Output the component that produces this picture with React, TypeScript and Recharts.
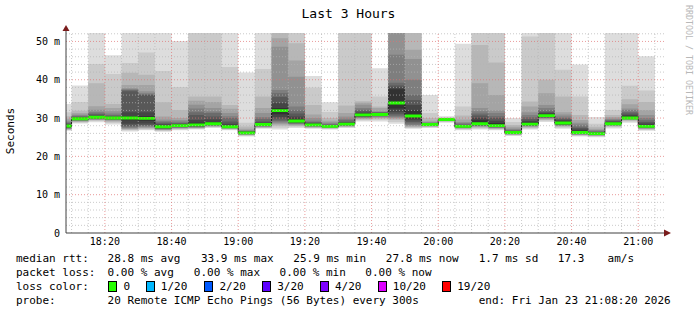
import React from "react";
import { Area, ComposedChart, ReferenceDot, ReferenceLine, XAxis, YAxis } from "recharts";

// 5 minute steps, each entry is the start of the step
const times = [
  "18:05", "18:10", "18:15", "18:20", "18:25", "18:30", "18:35", "18:40", "18:45",
  "18:50", "18:55", "19:00", "19:05", "19:10", "19:15", "19:20", "19:25", "19:30",
  "19:35", "19:40", "19:45", "19:50", "19:55", "20:00", "20:05", "20:10", "20:15",
  "20:20", "20:25", "20:30", "20:35", "20:40", "20:45", "20:50", "20:55", "21:00",
];

// median rtt in ms
const median = [
  27.9, 29.8, 30.2, 30.0, 30.0, 29.9, 27.7, 28.0, 28.2, 28.5, 27.7, 26.1,
  28.3, 31.9, 29.2, 28.2, 27.8, 28.4, 30.8, 30.9, 33.9, 30.5, 28.3, 29.6,
  27.8, 28.5, 28.0, 26.2, 28.4, 30.6, 28.7, 26.2, 25.9, 28.5, 30.0, 27.8,
];

// upper pings (ping20 .. ping11), ms
const upper = [
  [33.7, 31.5, 30.5, 29.8, 29.3, 29.0, 28.7, 28.5, 28.3, 28.1],
  [38.5, 34.2, 31.9, 31.3, 30.9, 30.7, 30.5, 30.3, 30.1, 30.0],
  [58, 44.1, 39.1, 33.1, 32.2, 31.6, 31.2, 30.9, 30.6, 30.4],
  [46.4, 41.5, 33.7, 32.6, 31.8, 31.2, 30.8, 30.5, 30.3, 30.1],
  [58, 44.4, 41.8, 38.6, 37.8, 37.5, 37.3, 37.0, 31.5, 30.5],
  [58, 47.1, 41.3, 38.6, 37.0, 36.5, 36.2, 36.0, 31.5, 30.5],
  [58, 42.3, 34.1, 30.4, 29.6, 29.2, 28.9, 28.6, 28.3, 28.0],
  [50.1, 38.1, 32.1, 30.0, 29.5, 29.1, 28.8, 28.6, 28.4, 28.2],
  [58, 58, 35.6, 34.5, 33.5, 32.5, 31.5, 30.8, 29.5, 28.8],
  [58, 58, 35.6, 34.2, 32.6, 31.7, 31.3, 30.4, 29.6, 29.0],
  [58, 43.3, 33.4, 32.4, 31.3, 30.5, 30.0, 29.1, 28.5, 28.0],
  [41.9, 28.8, 27.8, 27.2, 26.9, 26.7, 26.6, 26.5, 26.4, 26.3],
  [58, 42.8, 35.6, 32.6, 31.3, 30.3, 29.8, 29.1, 28.8, 28.5],
  [58, 58, 58, 50.8, 48.6, 37.3, 36.5, 35.5, 33.9, 32.6],
  [58, 58, 49.5, 45.0, 40.8, 33.0, 32.0, 31.2, 30.4, 29.8],
  [41.0, 38.0, 33.4, 30.9, 30.0, 29.3, 29.0, 28.8, 28.6, 28.4],
  [34.1, 31.6, 30.0, 29.3, 28.9, 28.6, 28.4, 28.2, 28.1, 28.0],
  [58, 58, 33.3, 31.3, 30.4, 29.8, 29.4, 29.0, 28.8, 28.6],
  [58, 58, 34.4, 34.0, 33.5, 32.6, 32.2, 31.8, 31.4, 31.1],
  [43.0, 35.6, 33.0, 32.6, 31.8, 31.6, 31.5, 31.4, 31.2, 31.0],
  [58, 58, 58, 58, 58, 46.5, 39.2, 38.5, 38.0, 37.5],
  [58, 58, 58, 47.8, 45.4, 40.0, 36.0, 34.7, 33.4, 32.0],
  [36.0, 31.3, 30.0, 29.3, 29.0, 28.8, 28.7, 28.6, 28.5, 28.4],
  [30.5, 30.2, 30.0, 29.9, 29.8, 29.8, 29.7, 29.7, 29.6, 29.6],
  [49.4, 33.0, 30.7, 29.6, 29.0, 28.7, 28.4, 28.2, 28.0, 27.9],
  [58, 58, 49.1, 39.1, 32.6, 31.8, 31.2, 30.7, 30.0, 29.4],
  [58, 58, 44.5, 36.0, 32.0, 31.3, 30.5, 30.0, 29.3, 28.7],
  [30.0, 29.0, 28.2, 27.7, 27.3, 27.0, 26.8, 26.6, 26.5, 26.4],
  [58, 51.3, 34.3, 33.0, 31.5, 30.8, 30.2, 29.7, 29.2, 28.8],
  [58, 58, 40.0, 36.5, 33.4, 32.6, 32.0, 31.6, 31.3, 31.0],
  [58, 42.6, 35.6, 31.5, 30.9, 30.4, 30.0, 29.7, 29.4, 29.1],
  [44.0, 35.6, 30.8, 29.5, 28.8, 28.3, 27.8, 27.4, 27.0, 26.7],
  [30.3, 28.5, 27.7, 27.2, 26.9, 26.7, 26.5, 26.3, 26.2, 26.1],
  [58, 32.1, 30.8, 30.3, 29.9, 29.6, 29.4, 29.2, 29.0, 28.8],
  [58, 38.4, 34.9, 33.6, 32.5, 32.1, 31.6, 31.2, 30.8, 30.4],
  [46.1, 37.2, 34.2, 32.1, 30.8, 30.0, 29.4, 29.0, 28.6, 28.2],
];

// lower pings (ping1 .. ping10), ms
const lower = [
  [26.7, 26.9, 27.0, 27.1, 27.2, 27.3, 27.4, 27.5, 27.6, 27.7],
  [28.6, 28.8, 29.0, 29.1, 29.2, 29.3, 29.4, 29.5, 29.6, 29.7],
  [28.9, 29.2, 29.4, 29.5, 29.6, 29.7, 29.8, 29.9, 30.0, 30.1],
  [28.3, 28.7, 29.0, 29.2, 29.4, 29.5, 29.6, 29.7, 29.8, 29.9],
  [26.5, 26.8, 27.0, 27.1, 27.3, 27.5, 27.7, 28.0, 28.5, 29.4],
  [26.8, 27.0, 27.2, 27.4, 27.6, 27.8, 28.0, 28.2, 28.6, 29.3],
  [26.4, 26.6, 26.8, 26.9, 27.0, 27.1, 27.2, 27.3, 27.4, 27.5],
  [26.8, 27.0, 27.2, 27.3, 27.4, 27.5, 27.6, 27.7, 27.8, 27.9],
  [27.0, 27.2, 27.3, 27.4, 27.5, 27.6, 27.7, 27.8, 27.9, 28.0],
  [27.4, 27.6, 27.7, 27.8, 27.9, 28.0, 28.1, 28.2, 28.3, 28.4],
  [26.8, 27.0, 27.1, 27.2, 27.3, 27.4, 27.5, 27.5, 27.6, 27.6],
  [25.2, 25.4, 25.5, 25.6, 25.7, 25.8, 25.9, 25.9, 26.0, 26.0],
  [27.2, 27.4, 27.5, 27.6, 27.7, 27.8, 27.9, 28.0, 28.1, 28.2],
  [27.0, 27.5, 28.0, 28.3, 28.6, 28.9, 29.2, 29.6, 30.2, 31.0],
  [27.4, 27.7, 27.9, 28.1, 28.3, 28.5, 28.6, 28.8, 28.9, 29.0],
  [27.2, 27.4, 27.5, 27.6, 27.7, 27.8, 27.9, 28.0, 28.0, 28.1],
  [27.0, 27.2, 27.3, 27.4, 27.5, 27.6, 27.6, 27.7, 27.7, 27.7],
  [27.4, 27.6, 27.7, 27.8, 27.9, 28.0, 28.1, 28.2, 28.2, 28.3],
  [29.1, 29.4, 29.6, 29.8, 30.0, 30.1, 30.3, 30.4, 30.5, 30.6],
  [29.1, 29.5, 29.8, 30.0, 30.2, 30.4, 30.5, 30.6, 30.7, 30.8],
  [28.5, 29.0, 29.5, 29.8, 30.0, 30.3, 30.6, 31.0, 31.5, 32.5],
  [27.2, 27.4, 27.6, 27.8, 28.0, 28.2, 28.6, 29.0, 29.4, 29.9],
  [27.4, 27.6, 27.7, 27.8, 27.9, 28.0, 28.0, 28.1, 28.1, 28.2],
  [28.8, 29.0, 29.1, 29.2, 29.3, 29.4, 29.4, 29.5, 29.5, 29.5],
  [26.8, 27.0, 27.2, 27.3, 27.4, 27.5, 27.6, 27.6, 27.7, 27.7],
  [27.0, 27.3, 27.5, 27.7, 27.8, 27.9, 28.0, 28.1, 28.2, 28.3],
  [26.8, 27.0, 27.2, 27.3, 27.4, 27.5, 27.6, 27.7, 27.8, 27.9],
  [25.3, 25.5, 25.6, 25.7, 25.8, 25.9, 26.0, 26.0, 26.1, 26.1],
  [27.0, 27.3, 27.5, 27.7, 27.8, 27.9, 28.0, 28.1, 28.2, 28.3],
  [29.0, 29.3, 29.5, 29.7, 29.9, 30.0, 30.1, 30.2, 30.3, 30.4],
  [27.2, 27.5, 27.7, 27.9, 28.0, 28.1, 28.2, 28.3, 28.4, 28.5],
  [25.2, 25.4, 25.5, 25.6, 25.7, 25.8, 25.9, 26.0, 26.0, 26.1],
  [25.0, 25.2, 25.3, 25.4, 25.5, 25.6, 25.7, 25.7, 25.8, 25.8],
  [27.3, 27.6, 27.8, 27.9, 28.0, 28.1, 28.2, 28.3, 28.3, 28.4],
  [28.8, 29.1, 29.3, 29.5, 29.6, 29.7, 29.8, 29.8, 29.9, 29.9],
  [26.7, 26.9, 27.1, 27.2, 27.3, 27.4, 27.5, 27.6, 27.7, 27.7],
];

const xTickLabels = ["18:20", "18:40", "19:00", "19:20", "19:40", "20:00", "20:20", "20:40", "21:00"];
const yTicks = [0, 10, 20, 30, 40, 50];

const smokeColors = [
  "#dddddd", "#cacaca", "#b7b7b7", "#a4a4a4", "#919191",
  "#7e7e7e", "#6b6b6b", "#585858", "#454545", "#323232",
];

const lossColors = [
  { label: "0", color: "#26ff00" },
  { label: "1/20", color: "#00b8ff" },
  { label: "2/20", color: "#0059ff" },
  { label: "3/20", color: "#5e00ff" },
  { label: "4/20", color: "#7e00ff" },
  { label: "10/20", color: "#dd00ff" },
  { label: "19/20", color: "#ff0000" },
];

const START = 8 + 20 / 60; // 18:08:20
const END = START + 180;
const Y_MAX = 52.2;

const toMin = (s: string) => {
  const [h, m] = s.split(":").map(Number);
  return (h - 18) * 60 + m;
};
const fmtTime = (v: number) => `${18 + Math.floor(v / 60)}:${String(v % 60).padStart(2, "0")}`;

const rows = times.map((t, i) => ({
  t: toMin(t),
  med: median[i],
  band: [median[i] - 0.35, median[i] + 0.4],
  layers: upper[i].map((hi, k) => [lower[i][k], hi]),
}));
const lastRow = rows[rows.length - 1];
const data = [...rows, { ...lastRow, t: lastRow.t + 5 }];

const minorY: number[] = [];
for (let v = 2; v < Y_MAX; v += 2) if (v % 10 !== 0) minorY.push(v);
const minorX: number[] = [];
for (let v = 10; v <= 185; v += 5) if (v % 20 !== 0) minorX.push(v);

const mono = "'DejaVu Sans Mono', monospace";

const legendRows: [number, string][][] = [
  [[16, "median rtt:"], [107.6, "28.8 ms avg"], [200.9, "33.9 ms max"], [293.3, "25.9 ms min"],
   [385.8, "27.8 ms now"], [478.7, "1.7 ms sd"], [557.8, "17.3"], [607.6, "am/s"]],
  [[16, "packet loss:"], [107.6, "0.00 % avg"], [193.8, "0.00 % max"], [279.6, "0.00 % min"], [365.3, "0.00 % now"]],
  [[16, "loss color:"]],
  [[16, "probe:"], [107.6, "20 Remote ICMP Echo Pings (56 Bytes) every 300s"], [478.7, "end: Fri Jan 23 21:08:20 2026"]],
];
const rowTops = [252.8, 266.8, 280.5, 294.8];
const boxX = [108.4, 145.8, 204.4, 262.2, 320, 377.8, 442.2];

const textStyle: React.CSSProperties = {
  position: "absolute",
  fontFamily: mono,
  fontSize: 11,
  lineHeight: "12px",
  whiteSpace: "pre",
  color: "#000",
};

export default function App() {
  return (
    <div style={{ position: "absolute", left: 0, top: 0, width: 697, height: 315, background: "#fff", overflow: "hidden" }}>
      <ComposedChart width={697} height={315} data={data} margin={{ top: 33, right: 31, bottom: 62, left: 0 }}>
        <XAxis
          dataKey="t"
          type="number"
          domain={[START, END]}
          allowDataOverflow
          ticks={xTickLabels.map(toMin)}
          interval={0}
          tickFormatter={fmtTime}
          height={20}
          tickSize={0}
          tickMargin={5}
          axisLine={{ stroke: "#404040" }}
          tick={{ fontSize: 10, fontFamily: mono, fill: "#000" }}
        />
        <YAxis
          type="number"
          domain={[0, Y_MAX]}
          allowDataOverflow
          ticks={yTicks}
          interval={0}
          tickFormatter={(v: number) => (v === 0 ? "0" : `${v} m`)}
          width={66}
          tickSize={0}
          tickMargin={6}
          axisLine={{ stroke: "#404040" }}
          tick={{ fontSize: 10, fontFamily: mono, fill: "#000" }}
        />
        {smokeColors.map((c, k) => (
          <Area
            key={c}
            dataKey={(d: any) => d.layers[k]}
            type="stepAfter"
            fill={c}
            fillOpacity={1}
            stroke="none"
            dot={false}
            activeDot={false}
            isAnimationActive={false}
          />
        ))}
        {/* thin dark median line, only its vertical steps stay visible */}
        <Area
          dataKey="med"
          type="stepAfter"
          fill="none"
          fillOpacity={0}
          stroke="#202020"
          strokeWidth={1}
          dot={false}
          activeDot={false}
          isAnimationActive={false}
        />
        <Area dataKey="band" type="stepAfter" fill="#26ff00" fillOpacity={1} stroke="none" dot={false} activeDot={false} isAnimationActive={false} />
        {minorY.map((v) => (
          <ReferenceLine key={`my${v}`} y={v} stroke="#b4b4b4" strokeOpacity={0.7} strokeDasharray="1 2" />
        ))}
        {minorX.map((v) => (
          <ReferenceLine key={`mx${v}`} x={v} stroke="#b4b4b4" strokeOpacity={0.7} strokeDasharray="1 2" />
        ))}
        {[10, 20, 30, 40, 50].map((v) => (
          <ReferenceLine key={`My${v}`} y={v} stroke="#e07070" strokeOpacity={0.7} strokeDasharray="1 2" />
        ))}
        {xTickLabels.map((l) => (
          <ReferenceLine key={`Mx${l}`} x={toMin(l)} stroke="#e07070" strokeOpacity={0.7} strokeDasharray="1 2" />
        ))}
        <ReferenceDot
          x={END}
          y={0}
          r={0}
          ifOverflow="visible"
          shape={(p: any) => (
            <g>
              <line x1={p.cx} y1={p.cy} x2={p.cx + 3} y2={p.cy} stroke="#404040" />
              <path d={`M${p.cx - 2},${p.cy - 3.5}L${p.cx + 5},${p.cy}L${p.cx - 2},${p.cy + 3.5}Z`} fill="#7a1c1c" />
            </g>
          )}
        />
        <ReferenceDot
          x={START}
          y={Y_MAX}
          r={0}
          ifOverflow="visible"
          shape={(p: any) => (
            <g>
              <line x1={p.cx} y1={p.cy} x2={p.cx} y2={p.cy - 3} stroke="#404040" />
              <path d={`M${p.cx - 3.5},${p.cy - 2}L${p.cx},${p.cy - 8}L${p.cx + 3.5},${p.cy - 2}Z`} fill="#7a1c1c" />
            </g>
          )}
        />
      </ComposedChart>

      <div style={{ ...textStyle, left: 0, width: 697, top: 6, fontSize: 13, lineHeight: "15px", textAlign: "center" }}>
        Last 3 Hours
      </div>
      <div
        style={{
          ...textStyle,
          left: 11,
          top: 131,
          transform: "translate(-50%, -50%) rotate(-90deg)",
        }}
      >
        Seconds
      </div>
      <div
        style={{
          ...textStyle,
          left: 684,
          top: 5,
          fontSize: 8.3,
          lineHeight: "9px",
          writingMode: "vertical-rl",
          color: "#b8b8b8",
        }}
      >
        RRDTOOL / TOBI OETIKER
      </div>

      {legendRows.map((row, r) =>
        row.map(([x, s]) => (
          <div key={`${r}-${x}`} style={{ ...textStyle, left: x, top: rowTops[r] }}>
            {s}
          </div>
        ))
      )}
      {lossColors.map((lc, i) => (
        <React.Fragment key={lc.label}>
          <div
            style={{
              position: "absolute",
              left: boxX[i],
              top: 281,
              width: 7,
              height: 9,
              background: lc.color,
              border: "1px solid #000",
            }}
          />
          <div style={{ ...textStyle, left: boxX[i] + 15, top: rowTops[2] }}>{lc.label}</div>
        </React.Fragment>
      ))}
    </div>
  );
}
